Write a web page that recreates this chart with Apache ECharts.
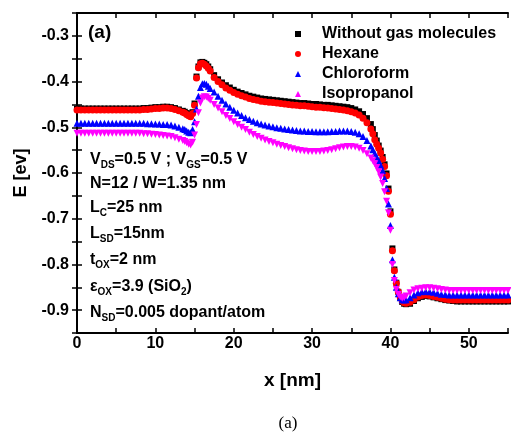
<!DOCTYPE html>
<html>
<head>
<meta charset="utf-8">
<script src="https://cdn.jsdelivr.net/npm/echarts@6/dist/echarts.min.js"></script>
<style>html,body{margin:0;padding:0;background:#fff}#c{width:511px;height:435px}</style>
</head>
<body>
<div id="c"></div>
<script>
const seriesNames = ['Without gas molecules', 'Hexane', 'Chloroform', 'Isopropanol'];
const xTickLabels = [0, 10, 20, 30, 40, 50];
const yTickLabels = [-0.9, -0.8, -0.7, -0.6, -0.5, -0.4, -0.3];

const xs = [0,0.5,1,1.5,2,2.5,3,3.5,4,4.5,5,5.5,6,6.5,7,7.5,8,8.5,9,9.5,10,10.5,11,11.5,12,12.5,13,13.5,
  13.75,14,14.25,14.5,14.75,15,15.25,15.5,15.75,16,16.25,16.5,16.75,17,
  17.5,18,18.5,19,19.5,20,20.5,21,21.5,22,22.5,23,23.5,24,24.5,25,25.5,26,26.5,27,27.5,28,28.5,29,29.5,30,30.5,31,31.5,32,32.5,33,33.5,34,34.5,35,35.5,36,36.5,37,37.5,
  37.75,38,38.25,38.5,38.75,39,39.25,39.5,39.75,40,40.25,40.5,40.75,41,41.25,41.5,41.75,42,
  42.5,43,43.5,44,44.5,45,45.5,46,46.5,47,47.5,48,48.5,49,49.5,50,50.5,51,51.5,52,52.5,53,53.5,54,54.5,55];

const withoutGas = [-0.459,-0.459,-0.459,-0.459,-0.459,-0.459,-0.459,-0.459,-0.459,-0.459,-0.459,-0.459,-0.459,-0.459,-0.459,-0.459,
  -0.459,-0.458,-0.458,-0.457,-0.456,-0.456,-0.455,-0.455,-0.456,-0.458,-0.461,-0.464,
  -0.466,-0.469,-0.472,-0.474,-0.467,-0.448,-0.389,-0.367,-0.358,-0.357,-0.359,-0.362,-0.367,-0.373,
  -0.386,-0.395,-0.402,-0.408,-0.413,-0.418,-0.422,-0.425,-0.428,-0.431,-0.433,-0.435,-0.437,-0.438,-0.439,-0.440,-0.441,-0.442,-0.443,-0.444,
  -0.445,-0.446,-0.447,-0.447,-0.448,-0.449,-0.449,-0.450,-0.451,-0.451,-0.452,-0.453,-0.454,-0.455,-0.456,-0.458,-0.461,-0.465,-0.471,-0.480,-0.493,
  -0.504,-0.517,-0.529,-0.540,-0.551,-0.565,-0.581,-0.601,-0.634,-0.684,-0.765,-0.811,-0.840,-0.860,-0.873,-0.882,-0.886,-0.887,
  -0.886,-0.880,-0.874,-0.871,-0.869,-0.870,-0.872,-0.874,-0.876,-0.878,-0.879,-0.880,-0.881,
  -0.881,-0.881,-0.881,-0.881,-0.881,-0.881,-0.881,-0.881,-0.881,-0.881,-0.881,-0.881,-0.881];

const hexane = [-0.462,-0.462,-0.462,-0.462,-0.462,-0.462,-0.462,-0.462,-0.462,-0.462,-0.462,-0.462,-0.462,-0.462,-0.462,-0.462,
  -0.462,-0.461,-0.461,-0.460,-0.459,-0.459,-0.458,-0.458,-0.459,-0.461,-0.464,-0.467,
  -0.469,-0.472,-0.475,-0.477,-0.470,-0.452,-0.392,-0.370,-0.361,-0.360,-0.362,-0.366,-0.371,-0.377,
  -0.391,-0.400,-0.407,-0.414,-0.419,-0.424,-0.428,-0.431,-0.434,-0.437,-0.439,-0.441,-0.443,-0.444,-0.445,-0.446,-0.447,-0.448,-0.449,-0.450,
  -0.451,-0.452,-0.453,-0.453,-0.454,-0.455,-0.456,-0.456,-0.457,-0.458,-0.459,-0.460,-0.461,-0.462,-0.464,-0.466,-0.469,-0.473,-0.480,-0.490,-0.504,
  -0.514,-0.527,-0.537,-0.546,-0.556,-0.570,-0.586,-0.606,-0.640,-0.690,-0.770,-0.814,-0.841,-0.860,-0.872,-0.880,-0.884,-0.885,
  -0.883,-0.877,-0.871,-0.868,-0.867,-0.868,-0.870,-0.872,-0.874,-0.876,-0.877,-0.878,-0.878,
  -0.878,-0.878,-0.878,-0.878,-0.878,-0.878,-0.878,-0.878,-0.878,-0.878,-0.878,-0.878,-0.878];

const chloroform = [-0.491,-0.491,-0.491,-0.491,-0.491,-0.491,-0.491,-0.491,-0.491,-0.491,-0.491,-0.491,-0.491,-0.491,-0.491,-0.491,-0.491,
  -0.491,-0.492,-0.492,-0.493,-0.493,-0.494,-0.494,-0.495,-0.497,-0.500,-0.503,
  -0.505,-0.508,-0.511,-0.512,-0.505,-0.488,-0.460,-0.432,-0.413,-0.405,-0.404,-0.406,-0.410,-0.415,
  -0.423,-0.432,-0.441,-0.449,-0.456,-0.463,-0.469,-0.474,-0.479,-0.483,-0.487,-0.490,-0.493,-0.495,-0.497,-0.499,-0.501,-0.502,-0.504,-0.505,
  -0.506,-0.507,-0.508,-0.508,-0.509,-0.509,-0.510,-0.510,-0.510,-0.510,-0.509,-0.509,-0.508,-0.508,-0.508,-0.509,-0.511,-0.514,-0.520,-0.529,-0.541,
  -0.549,-0.557,-0.565,-0.573,-0.583,-0.595,-0.612,-0.634,-0.668,-0.715,-0.790,-0.828,-0.850,-0.864,-0.873,-0.877,-0.878,-0.877,
  -0.873,-0.867,-0.862,-0.860,-0.859,-0.860,-0.861,-0.863,-0.865,-0.866,-0.867,
  -0.867,-0.867,-0.867,-0.867,-0.867,-0.867,-0.867,-0.867,-0.867,-0.867,-0.867,-0.867,-0.867,-0.867,-0.867];

const isopropanol = [-0.513,-0.513,-0.513,-0.513,-0.513,-0.513,-0.513,-0.513,-0.513,-0.513,-0.513,-0.513,-0.513,-0.513,-0.513,-0.513,-0.513,
  -0.514,-0.514,-0.515,-0.516,-0.517,-0.518,-0.519,-0.520,-0.523,-0.526,-0.529,
  -0.531,-0.534,-0.537,-0.539,-0.533,-0.517,-0.494,-0.468,-0.447,-0.436,-0.433,-0.434,-0.437,-0.441,
  -0.450,-0.458,-0.466,-0.474,-0.481,-0.488,-0.494,-0.500,-0.505,-0.511,-0.516,-0.520,-0.524,-0.528,-0.531,-0.534,-0.537,-0.540,-0.542,-0.545,
  -0.547,-0.549,-0.551,-0.552,-0.553,-0.553,-0.553,-0.553,-0.552,-0.551,-0.549,-0.547,-0.545,-0.543,-0.542,-0.542,-0.543,-0.546,-0.551,-0.558,-0.567,
  -0.573,-0.580,-0.588,-0.597,-0.609,-0.623,-0.641,-0.662,-0.687,-0.725,-0.800,-0.835,-0.855,-0.866,-0.871,-0.874,-0.873,-0.869,
  -0.862,-0.856,-0.853,-0.852,-0.851,-0.851,-0.852,-0.853,-0.855,-0.856,-0.857,
  -0.857,-0.857,-0.857,-0.857,-0.857,-0.857,-0.857,-0.857,-0.857,-0.857,-0.857,-0.857,-0.857,-0.857,-0.857];

const seriesValues = [withoutGas, hexane, chloroform, isopropanol];
const colors = ['#000000', '#ff0000', '#0000ff', '#ff00ff'];
const symbols = ['rect', 'circle', 'triangle', 'triangle'];
const rotations = [0, 0, 0, 180];

const FONT = "'Liberation Sans', Arial, Helvetica, sans-serif";
const chart = echarts.init(document.getElementById('c'), null, {renderer: 'canvas'});

function pairs(vals) { return xs.map((x, i) => [x, vals[i]]); }

const axisLine = {show: true, lineStyle: {color: '#000', width: 2}};
const tick = {show: true, inside: true, length: 5, lineStyle: {color: '#000', width: 1.5}};

const rich = {
  m: {fontSize: 16, fontWeight: 'bold', fontFamily: FONT, color: '#000'},
  s: {fontSize: 10, fontWeight: 'bold', fontFamily: FONT, color: '#000', padding: [10, 0, 0, 0]}
};
const notes = [
  ['{m|V}{s|DS}{m|=0.5 V ; V}{s|GS}{m|=0.5 V}', 160],
  ['{m|N=12 / W=1.35 nm}', 184],
  ['{m|L}{s|C}{m|=25 nm}', 208],
  ['{m|L}{s|SD}{m|=15nm}', 234],
  ['{m|t}{s|OX}{m|=2 nm}', 260],
  ['{m|\u03b5}{s|OX}{m|=3.9 (SiO}{s|2}{m|)}', 287],
  ['{m|N}{s|SD}{m|=0.005 dopant/atom}', 313]
];

const option = {
  backgroundColor: '#fff',
  animation: false,
  grid: {left: 77, right: 0, top: 13, bottom: 102, containLabel: false},
  xAxis: [
    {type: 'value', min: 0, max: 55, interval: 5, position: 'bottom',
     name: 'x [nm]', nameLocation: 'middle', nameGap: 38,
     nameTextStyle: {fontSize: 19, fontWeight: 'bold', fontFamily: FONT, color: '#000'},
     axisLine, axisTick: tick, splitLine: {show: false},
     axisLabel: {margin: 3, fontSize: 16, fontWeight: 'bold', fontFamily: FONT, color: '#000',
       formatter: v => xTickLabels.indexOf(Math.round(v)) >= 0 && Math.abs(v - Math.round(v)) < 1e-6 ? String(Math.round(v)) : ''}},
    {type: 'value', min: 0, max: 55, interval: 5, position: 'top',
     axisLine, axisTick: tick, splitLine: {show: false}, axisLabel: {show: false}}
  ],
  yAxis: [
    {type: 'value', min: -0.95, max: -0.25, interval: 0.05, position: 'left',
     name: 'E [ev]', nameLocation: 'middle', nameGap: 45, nameRotate: 90,
     nameTextStyle: {fontSize: 18, fontWeight: 'bold', fontFamily: FONT, color: '#000'},
     axisLine, axisTick: tick, splitLine: {show: false},
     axisLabel: {margin: 8, fontSize: 16, fontWeight: 'bold', fontFamily: FONT, color: '#000',
       formatter: v => { const k = Math.round(v * 10) / 10; return (Math.abs(v - k) < 1e-6 && yTickLabels.indexOf(k) >= 0) ? k.toFixed(1) : ''; }}},
    {type: 'value', min: -0.95, max: -0.25, interval: 0.05, position: 'right',
     axisLine, axisTick: tick, splitLine: {show: false}, axisLabel: {show: false}}
  ],
  legend: {
    orient: 'vertical', left: 295, top: 26, padding: 0, itemWidth: 6, itemHeight: 6, itemGap: 4,
    selectedMode: false,
    data: seriesNames,
    textStyle: {fontSize: 16, lineHeight: 16, fontWeight: 'bold', fontFamily: FONT, color: '#000', padding: [0, 0, 0, 16]}
  },
  series: seriesNames.map((name, i) => ({
    name, type: 'scatter', data: pairs(seriesValues[i]),
    symbol: symbols[i], symbolSize: i === 0 ? 6 : 7, symbolRotate: rotations[i],
    itemStyle: {color: colors[i], opacity: 1},
    emphasis: {disabled: true}
  })),
  graphic: [
    {type: 'text', left: 88, top: 23, style: {text: '(a)', fontSize: 19, fontWeight: 'bold', fontFamily: FONT, fill: '#000'}},
    {type: 'text', x: 288, y: 424, style: {text: '(a)', fontSize: 17, fontFamily: "'Liberation Serif', 'Times New Roman', serif", fill: '#000', align: 'center', verticalAlign: 'middle'}}
  ].concat(notes.map(n => ({type: 'text', x: 90, y: n[1], z: 10,
     style: {text: n[0], rich, verticalAlign: 'middle', align: 'left'}})))
};
chart.setOption(option);
</script>
</body>
</html>
